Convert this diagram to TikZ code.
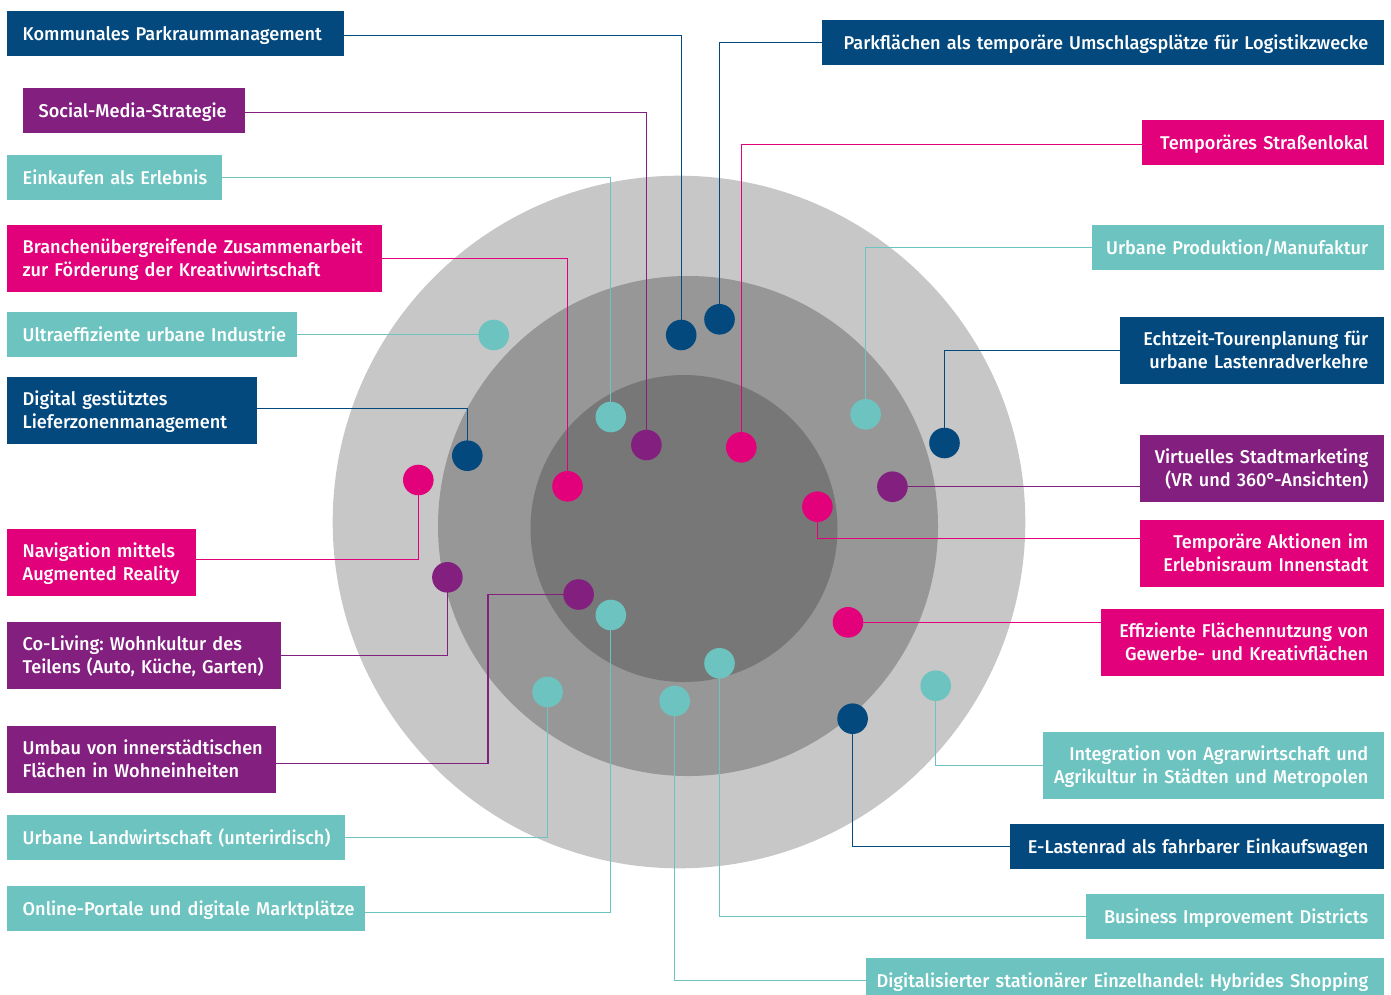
\documentclass[tikz,border=0pt]{standalone}
\usepackage{fontspec}
\newfontfamily\labelfam{Fira Sans Medium}[FakeStretch=0.98]
\frenchspacing
\definecolor{cblue}{HTML}{03497E}
\definecolor{cpurple}{HTML}{831F7F}
\definecolor{cmagenta}{HTML}{E3007B}
\definecolor{cteal}{HTML}{6CC3BF}
\definecolor{ring1}{HTML}{C7C7C7}
\definecolor{ring2}{HTML}{979797}
\definecolor{ring3}{HTML}{777777}
% strut that puts the cap-height centre on the box centre
\newcommand\sr{\rule[-4.3pt]{0pt}{21.3pt}}
% one unbreakable label line, flush left or flush right
\newcommand\lline[1]{\makebox[\linewidth][l]{\sr #1}}
\newcommand\rline[1]{\makebox[\linewidth][r]{\sr #1}}
\pgfdeclarelayer{rings}
\pgfdeclarelayer{wires}
\pgfsetlayers{rings,wires,main}
\tikzset{
  lbl/.style={rectangle, inner xsep=15.5pt, inner ysep=0pt, text=white,
    font=\labelfam\fontsize{18.5}{22.5}\selectfont},
  lbox/.style={lbl, anchor=north west, align=left},
  rbox/.style={lbl, anchor=north east, align=right},
  one/.style={minimum height=45pt},
  two/.style={minimum height=67pt},
  dot/.style={circle, inner sep=0pt, minimum size=30.6pt},
  wire/.style={line width=1.3pt},
}
\begin{document}
\begin{tikzpicture}[x=1pt,y=-1pt]
\useasboundingbox (0,0) rectangle (1391,994);

% rings
\begin{pgfonlayer}{rings}
  \fill[ring1] (679,522) circle (346.3);
  \fill[ring2] (688,526) circle (250);
  \fill[ring3] (684,528.5) circle (153.5);
\end{pgfonlayer}

% dots
\node[dot, fill=cblue]    (dkom) at (681.2,335) {};
\node[dot, fill=cblue]    (dpar) at (719.5,319.3) {};
\node[dot, fill=cpurple]  (dsoc) at (646.4,445) {};
\node[dot, fill=cmagenta] (dtsl) at (741.3,447.3) {};
\node[dot, fill=cteal]    (dein) at (610.8,417) {};
\node[dot, fill=cteal]    (dupm) at (865.6,414.3) {};
\node[dot, fill=cmagenta] (dbra) at (567.5,486.3) {};
\node[dot, fill=cteal]    (dult) at (493.7,335) {};
\node[dot, fill=cblue]    (dech) at (944.5,443) {};
\node[dot, fill=cblue]    (ddig) at (467.3,455.7) {};
\node[dot, fill=cpurple]  (dvir) at (892.4,486.7) {};
\node[dot, fill=cmagenta] (dnav) at (418.3,480) {};
\node[dot, fill=cmagenta] (dtak) at (817.4,506.7) {};
\node[dot, fill=cpurple]  (dcol) at (447.4,577.3) {};
\node[dot, fill=cpurple]  (dumb) at (578.6,594.5) {};
\node[dot, fill=cmagenta] (deff) at (848,622.3) {};
\node[dot, fill=cteal]    (donl) at (610.8,615) {};
\node[dot, fill=cteal]    (dbid) at (719.5,663.3) {};
\node[dot, fill=cteal]    (dula) at (547.6,692) {};
\node[dot, fill=cteal]    (ddsh) at (674.7,701) {};
\node[dot, fill=cteal]    (dint) at (935.7,685.7) {};
\node[dot, fill=cblue]    (dela) at (852.6,718.7) {};

% labels on the left
\node[lbox, one, fill=cblue, text width=306pt] (kom) at (7,11)
  {\lline{Kommunales Parkraummanagement}};
\node[lbox, one, fill=cpurple, text width=191pt] (soc) at (23,88)
  {\lline{Social-Media-Strategie}};
\node[lbox, one, fill=cteal, text width=184pt] (ein) at (7,155)
  {\lline{Einkaufen als Erlebnis}};
\node[lbox, two, fill=cmagenta, text width=344pt] (bra) at (7,225)
  {\lline{Branchenübergreifende Zusammenarbeit}\\\lline{zur Förderung der Kreativwirtschaft}};
\node[lbox, one, fill=cteal, text width=259pt] (ult) at (7,312)
  {\lline{Ultraeffiziente urbane Industrie}};
\node[lbox, two, fill=cblue, text width=219pt] (dig) at (7,377)
  {\lline{Digital gestütztes}\\\lline{Lieferzonenmanagement}};
\node[lbox, two, fill=cmagenta, text width=158pt] (nav) at (7,529)
  {\lline{Navigation mittels}\\\lline{Augmented Reality}};
\node[lbox, two, fill=cpurple, text width=243pt] (col) at (7,622)
  {\lline{Co-Living: Wohnkultur des}\\\lline{Teilens (Auto, Küche, Garten)}};
\node[lbox, two, fill=cpurple, text width=238pt] (umb) at (7,726)
  {\lline{Umbau von innerstädtischen}\\\lline{Flächen in Wohneinheiten}};
\node[lbox, one, fill=cteal, text width=307pt] (ula) at (7,815)
  {\lline{Urbane Landwirtschaft (unterirdisch)}};
\node[lbox, one, fill=cteal, text width=327pt] (onl) at (7,886)
  {\lline{Online-Portale und digitale Marktplätze}};

% labels on the right
\node[rbox, one, fill=cblue, text width=531pt] (par) at (1384,20)
  {\rline{Parkflächen als temporäre Umschlagsplätze für Logistikzwecke}};
\node[rbox, one, fill=cmagenta, text width=211pt] (tsl) at (1384,120)
  {\rline{Temporäres Straßenlokal}};
\node[rbox, one, fill=cteal, text width=261pt] (upm) at (1384,225)
  {\rline{Urbane Produktion/Manufaktur}};
\node[rbox, two, fill=cblue, text width=233pt] (ech) at (1384,317)
  {\rline{Echtzeit-Tourenplanung für}\\\rline{urbane Lastenradverkehre}};
\node[rbox, two, fill=cpurple, text width=213pt] (vir) at (1384,435)
  {\rline{Virtuelles Stadtmarketing}\\\rline{(VR und 360°-Ansichten)}};
\node[rbox, two, fill=cmagenta, text width=213pt] (tak) at (1384,520)
  {\rline{Temporäre Aktionen im}\\\rline{Erlebnisraum Innenstadt}};
\node[rbox, two, fill=cmagenta, text width=252pt] (eff) at (1384,609)
  {\rline{Effiziente Flächennutzung von}\\\rline{Gewerbe- und Kreativflächen}};
\node[rbox, two, fill=cteal, text width=310pt] (int) at (1384,732)
  {\rline{Integration von Agrarwirtschaft und}\\\rline{Agrikultur in Städten und Metropolen}};
\node[rbox, one, fill=cblue, text width=343pt] (ela) at (1384,824)
  {\rline{E-Lastenrad als fahrbarer Einkaufswagen}};
\node[rbox, one, fill=cteal, text width=267pt] (bid) at (1384,894)
  {\rline{Business Improvement Districts}};
\node[rbox, one, fill=cteal, text width=487pt] (dsh) at (1384,958)
  {\rline{Digitalisierter stationärer Einzelhandel: Hybrides Shopping}};

% connectors
\begin{pgfonlayer}{wires}
  \draw[wire, cblue]    ([yshift=-1.5pt]kom.east) -| (dkom.center);
  \draw[wire, cblue]    (par.west) -| (dpar.center);
  \draw[wire, cpurple]  ([yshift=-1.5pt]soc.east) -| (dsoc.center);
  \draw[wire, cmagenta] ([yshift=-1.5pt]tsl.west) -| (dtsl.center);
  \draw[wire, cteal]    (ein.east) -| (dein.center);
  \draw[wire, cteal]    (upm.west) -| (dupm.center);
  \draw[wire, cmagenta] (bra.east) -| (dbra.center);
  \draw[wire, cteal]    (ult.east) -| (dult.center);
  \draw[wire, cblue]    ([yshift=2.5pt]dig.east) -| (ddig.center);
  \draw[wire, cblue]    (ech.west) -| (dech.center);
  \draw[wire, cpurple]  (dvir.center) -- (dvir.center -| vir.west);
  \draw[wire, cmagenta] (dnav.center) |- ([yshift=3.5pt]nav.east);
  \draw[wire, cmagenta] (dtak.center) |- ([yshift=15.5pt]tak.west);
  \draw[wire, cpurple]  (dcol.center) |- (col.east);
  \draw[wire, cpurple]  (dumb.center) -- ++(-90.6,0) |- ([yshift=-3.5pt]umb.east);
  \draw[wire, cmagenta] (deff.center) -- (deff.center -| eff.west);
  \draw[wire, cteal]    (dint.center) |- (int.west);
  \draw[wire, cteal]    (dula.center) |- (ula.east);
  \draw[wire, cblue]    (dela.center) |- (ela.west);
  \draw[wire, cteal]    (donl.center) |- ([yshift=-3.5pt]onl.east);
  \draw[wire, cteal]    (dbid.center) |- (bid.west);
  \draw[wire, cteal]    (ddsh.center) |- (dsh.west);
\end{pgfonlayer}
\end{tikzpicture}
\end{document}
